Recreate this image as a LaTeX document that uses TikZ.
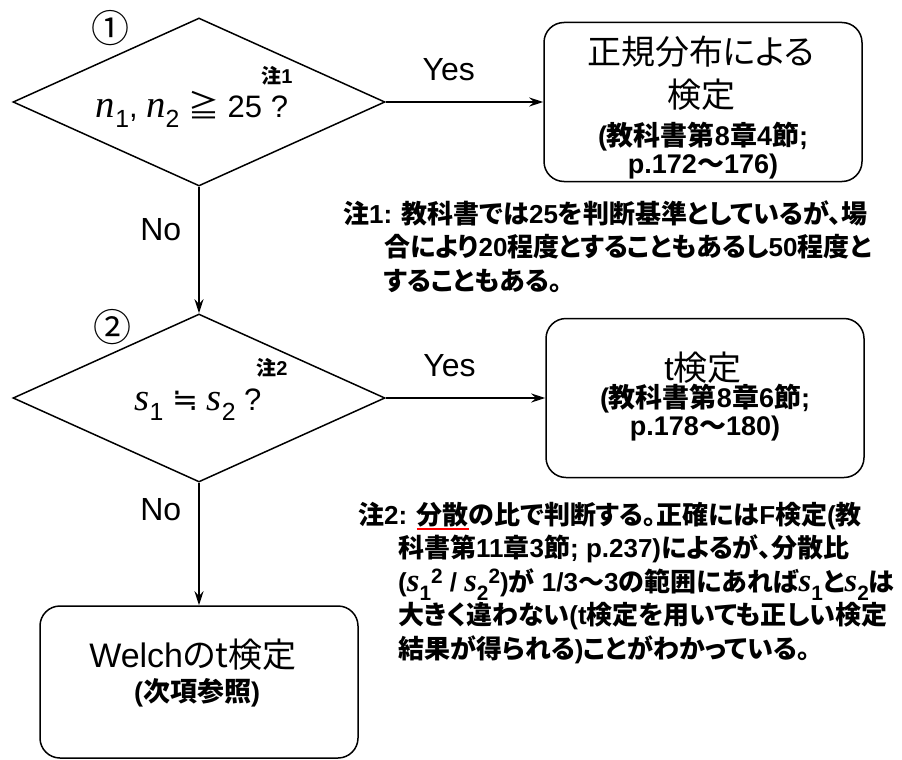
\documentclass[tikz,border=0pt]{standalone}
\usepackage{fontspec}
\usepackage{graphicx}
\setmainfont{Liberation Sans}
\newfontfamily\jpf{Noto Sans CJK JP}[RawFeature=+palt]
\newfontfamily\tmsf{Liberation Serif}
\newfontfamily\symf{DejaVu Sans}
\usetikzlibrary{shapes.geometric, arrows.meta, positioning}

\newcommand{\jp}[1]{{\jpf #1}}
\newcommand{\va}[2]{\scalebox{1.25}{\tmsf\itshape #1}\raisebox{-.35em}{\scalebox{.8}{#2}}}
\newcommand{\sq}[1]{\raisebox{.3em}{\scalebox{.8}{#1}}}
\newcommand{\redul}[1]{\setbox0\hbox{#1}\rlap{\color{red}\rule[-6pt]{\wd0}{2.5pt}}\box0}

\begin{document}
\begin{tikzpicture}[x=1pt, y=-1pt,
  dec/.style={diamond, draw, line width=1.5pt, minimum width=372pt, minimum height=168pt, inner sep=0pt},
  res/.style={draw, line width=1.5pt, rounded corners=20pt, minimum width=318pt, minimum height=159pt},
  arr/.style={line width=1.5pt, -{Stealth[length=14pt, width=9pt]}},
  lbl/.style={inner sep=0pt, font=\fontsize{32}{36}\selectfont},
  big/.style={inner sep=0pt, align=center, font=\fontsize{34}{43}\selectfont},
  small/.style={inner sep=0pt, align=center, font=\fontsize{27}{28}\selectfont\bfseries},
  cond/.style={inner sep=0pt, anchor=base, font=\fontsize{31}{36}\selectfont},
  tag/.style={inner sep=0pt, anchor=base, font=\fontsize{20}{22}\selectfont\bfseries},
  circ/.style={inner sep=0pt, font=\fontsize{38}{40}\selectfont\jpf},
  note/.style={inner sep=0pt, anchor=north west, align=left, font=\fontsize{26}{33.5}\selectfont\bfseries}]
\useasboundingbox (0,0) rectangle (902,760);

% question 1
\node[circ] (num1) at (110,28) {①};
\node[dec] (q1) at (199,102) {};
\node[cond] (q1txt) at (192,117) {\va{n}{1}, \va{n}{2} \jp{≧} 25 ?};
\node[tag] (q1tag) at (277,83) {\jp{注}1};

% question 2
\node[circ] (num2) at (112,327) {②};
\node[dec] (q2) at (199,398) {};
\node[cond] (q2txt) at (198,410) {\va{s}{1} {\symf ≒} \va{s}{2} ?};
\node[tag] (q2tag) at (272,375) {\jp{注}2};

% results
\node[res] (normal) at (703,102) {};
\node[big] (normalttl) at (701,73) {\jp{正規分布による}\\\jp{検定}};
\node[small] (normalref) at (703,151) {(\jp{教科書第}8\jp{章}4\jp{節};\\p.172\jp{〜}176)};

\node[res] (ttest) at (705,398) {};
\node[big] (ttestttl) at (703,368) {t\jp{検定}};
\node[small] (ttestref) at (705,413) {(\jp{教科書第}8\jp{章}6\jp{節};\\p.178\jp{〜}180)};

\node[res, minimum height=152pt] (welch) at (199,682) {};
\node[big] (welchttl) at (193,655) {Welch\jp{のt検定}};
\node[small] (welchref) at (197,693) {(\jp{次項参照})};

% connectors
\draw[arr] (q1.east) -- node[lbl, above=20pt, pos=.4] (yes1) {Yes} (normal.west);
\draw[arr] (q2.east) -- node[lbl, above=20pt, pos=.4] (yes2) {Yes} (ttest.west);
\draw[arr] (q1.south) -- node[lbl, left=17pt, pos=.34] (no1) {No} (q2.north);
\draw[arr] (q2.south) -- node[lbl, left=17pt, pos=.22] (no2) {No} (welch.north);

% notes
\node[note] (note1) at (343,200) {\jp{注}1: \jp{教科書では}25\jp{を判断基準としているが、場}\\
  \hspace*{41pt}\jp{合により}20\jp{程度とすることもあるし}50\jp{程度と}\\
  \hspace*{41pt}\jp{することもある。}};
\node[note] (note2) at (358,502) {\jp{注}2: \redul{\jp{分散}}\jp{の比で判断する。正確には}F\jp{検定}(\jp{教}\\
  \hspace*{40pt}\jp{科書第}11\jp{章}3\jp{節}; p.237)\jp{によるが、分散比}\\
  \hspace*{40pt}(\va{s}{1}\sq{2} / \va{s}{2}\sq{2})\jp{が} 1/3\jp{〜}3\jp{の範囲にあれば}\va{s}{1}\jp{と}\va{s}{2}\jp{は}\\
  \hspace*{40pt}\jp{大きく違わない}(t\jp{検定を用いても正しい検定}\\
  \hspace*{40pt}\jp{結果が得られる})\jp{ことがわかっている。}};
\end{tikzpicture}
\end{document}
